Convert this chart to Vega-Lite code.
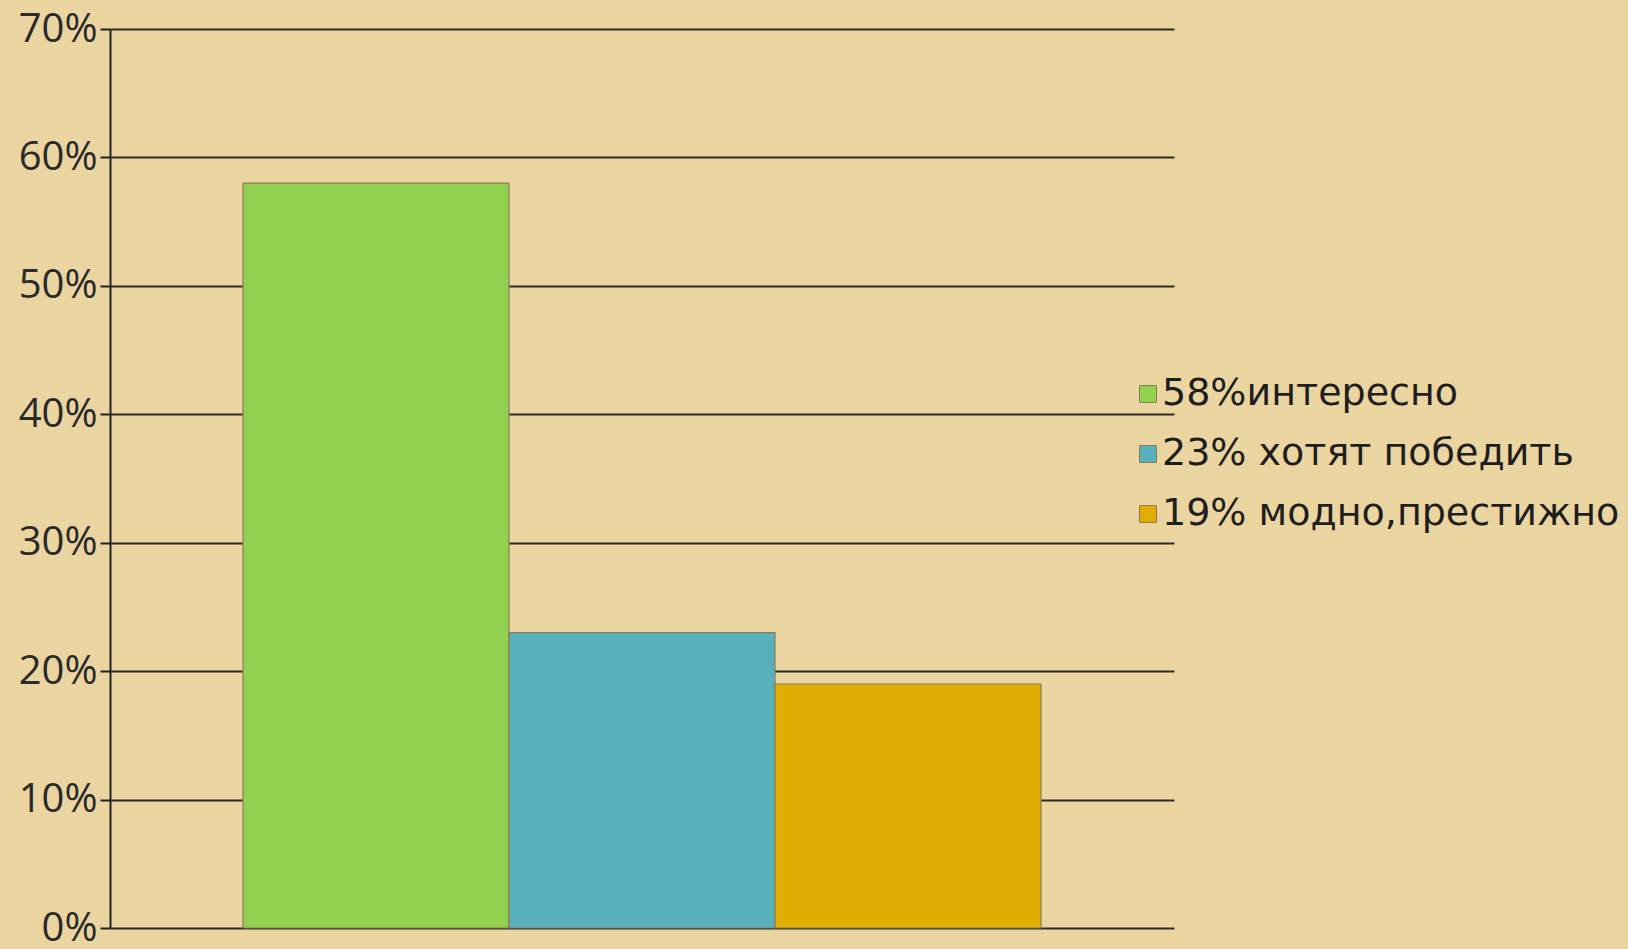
{
  "$schema": "https://vega.github.io/schema/vega-lite/v6.json",
  "width": 1064,
  "height": 899,
  "autosize": "none",
  "padding": {"left": 110, "top": 29, "right": 454, "bottom": 21},
  "background": "#ead4a0",
  "config": {"view": {"stroke": null}, "font": "Open Sans"},
  "data": {"values": [
    {"cat": "58%интересно", "value": 0.58},
    {"cat": "23% хотят победить", "value": 0.23},
    {"cat": "19% модно,престижно", "value": 0.19}
  ]},
  "mark": {"type": "bar", "stroke": "#8a7a55", "strokeWidth": 1.2},
  "encoding": {
    "x": {"field": "cat", "type": "nominal", "sort": null,
      "scale": {"paddingInner": 0, "paddingOuter": 0.5},
      "axis": null},
    "y": {"field": "value", "type": "quantitative",
      "scale": {"domain": [0, 0.7], "nice": false},
      "axis": {"values": [0, 0.1, 0.2, 0.3, 0.4, 0.5, 0.6, 0.7], "format": ".0%",
        "labelFontSize": 40, "labelColor": "#2a2a2a", "labelPadding": 3,
        "domainColor": "#222", "domainWidth": 2,
        "tickColor": "#222", "tickWidth": 2, "tickSize": 10,
        "grid": true, "gridColor": "#2a2a2a", "gridWidth": 2, "gridOpacity": 1,
        "title": null}},
    "color": {"field": "cat", "type": "nominal", "sort": null,
      "scale": {"range": ["#92d050", "#58b0bb", "#e0ae03"]},
      "legend": {"title": null, "orient": "none", "legendX": 1019, "legendY": 346,
        "symbolType": "square", "symbolSize": 289, "symbolStrokeWidth": 1, "symbolStrokeColor": "#8a7a55",
        "labelFont": "DejaVu Sans", "labelFontSize": 38, "labelColor": "#1e1e1e", "labelOffset": -5, "rowPadding": 22,
        "labelLimit": 700}}
  }
}
